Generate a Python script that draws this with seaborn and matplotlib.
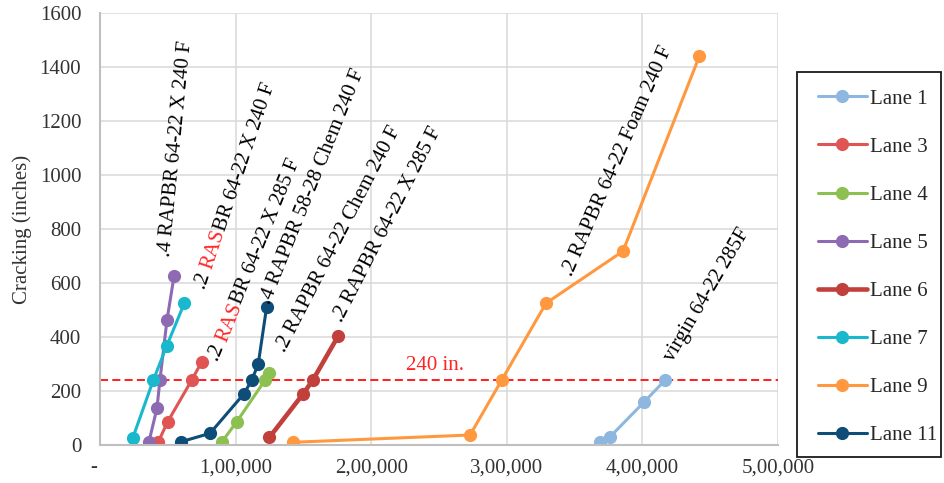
import numpy as np
import pandas as pd
import seaborn as sns
import matplotlib
matplotlib.use("Agg")
import matplotlib.pyplot as plt
import matplotlib.transforms as mtransforms
from matplotlib.lines import Line2D
from matplotlib.patches import Rectangle
from matplotlib.font_manager import FontProperties

# ---- data -------------------------------------------------------------
lanes = ["Lane 1", "Lane 3", "Lane 4", "Lane 5", "Lane 6", "Lane 7", "Lane 9", "Lane 11"]

lane1_passes = [368700, 376100, 401400, 416700]
lane1_crack = [10, 30, 160, 240]

lane3_passes = [43000, 49900, 67600, 75000]
lane3_crack = [12, 86, 240, 308]

lane4_passes = [89700, 100800, 121700, 124900]
lane4_crack = [10, 86, 240, 268]

lane5_passes = [36100, 42000, 44200, 49400, 54600]
lane5_crack = [12, 136, 240, 463, 625]

lane6_passes = [124900, 149900, 156900, 175700]
lane6_crack = [28, 190, 240, 404]

lane7_passes = [24100, 39300, 49200, 62200]
lane7_crack = [25, 240, 367, 525]

lane9_passes = [142100, 272900, 296200, 328900, 385700, 442000]
lane9_crack = [10, 37, 240, 525, 718, 1440]

lane11_passes = [59700, 81100, 106200, 111900, 116700, 122900]
lane11_crack = [12, 43, 190, 240, 300, 512]

limit_value = 240
limit_label = "240 in."

x_ticks = [0, 100000, 200000, 300000, 400000, 500000]
x_tick_labels = ["-  ", "1,00,000", "2,00,000", "3,00,000", "4,00,000", "5,00,000"]
y_ticks = [0, 200, 400, 600, 800, 1000, 1200, 1400, 1600]

mix_labels = [
    ".4 RAPBR 64-22 X 240 F",
    ".2 RASBR 64-22 X 240 F",
    ".2 RASBR 64-22 X 285 F",
    ".4 RAPBR 58-28 Chem 240 F",
    ".2 RAPBR 64-22 Chem 240 F",
    ".2 RAPBR 64-22 X 285 F",
    ".2 RAPBR 64-22 Foam 240 F",
    "virgin 64-22 285F",
]

# ---- styling ----------------------------------------------------------
colors = {
    "Lane 1": "#8DB7DE",
    "Lane 3": "#E05454",
    "Lane 4": "#8CC152",
    "Lane 5": "#8E6AB2",
    "Lane 6": "#C1403C",
    "Lane 7": "#19B8CC",
    "Lane 9": "#FF983E",
    "Lane 11": "#0D4D78",
}
widths = {ln: 2.2 for ln in lanes}
widths["Lane 6"] = 3.3

RED = "#FF2424"
SERIF = ["Liberation Serif", "DejaVu Serif"]
FS = 15

sns.set_theme(style="white")
plt.rcParams["font.family"] = SERIF

series = {
    "Lane 1": (lane1_passes, lane1_crack),
    "Lane 3": (lane3_passes, lane3_crack),
    "Lane 4": (lane4_passes, lane4_crack),
    "Lane 5": (lane5_passes, lane5_crack),
    "Lane 6": (lane6_passes, lane6_crack),
    "Lane 7": (lane7_passes, lane7_crack),
    "Lane 9": (lane9_passes, lane9_crack),
    "Lane 11": (lane11_passes, lane11_crack),
}
frames = []
for ln in lanes:
    px, cy = series[ln]
    frames.append(pd.DataFrame({"lane": ln, "passes": px, "cracking": cy}))
df = pd.concat(frames, ignore_index=True)

fig = plt.figure(figsize=(9.45, 4.83), dpi=100)
ax = fig.add_axes([100 / 945, 1 - 445 / 483, 678 / 945, 432 / 483])

ax.grid(True, color="#D9D9D9", lw=1.1)
ax.set_axisbelow(True)

sns.lineplot(
    data=df, x="passes", y="cracking", hue="lane", hue_order=lanes,
    size="lane", size_order=lanes, sizes=widths, palette=colors,
    marker="o", markersize=9.5, markeredgewidth=0,
    sort=False, estimator=None, legend=False, ax=ax,
)

ax.axhline(limit_value, color=RED, lw=1.45, dashes=(4, 2.1), zorder=1.5)
ax.text(247000, 296, limit_label, color=RED, fontsize=FS, ha="center", va="center")

ax.set_xlim(0, 500000)
ax.set_ylim(0, 1600)
ax.set_xticks(x_ticks)
ax.set_xticklabels(x_tick_labels)
ax.set_yticks(y_ticks)
ax.tick_params(axis="both", length=0, labelsize=FS, colors="#333333")
ax.tick_params(axis="y", pad=13.5)
ax.tick_params(axis="x", pad=9.5)
ax.set_xlabel("")
ax.set_ylabel("Cracking (inches)", fontsize=FS, color="#333333")
ax.yaxis.set_label_coords(-0.100, 0.5)

for side in ("top", "right"):
    ax.spines[side].set_visible(False)
for side in ("left", "bottom"):
    ax.spines[side].set_color("#BFBFBF")
    ax.spines[side].set_linewidth(1.5)


# ---- rotated mix labels (multi-coloured pieces along one baseline) ------
def rotated_label(x, y, pieces, angle):
    renderer = fig.canvas.get_renderer()
    prop = FontProperties(family=SERIF, size=FS)
    theta = np.deg2rad(angle)
    done = ""
    for text, color in pieces:
        if done:
            first = text[0]
            w_all = renderer.get_text_width_height_descent(done + first, prop, ismath=False)[0]
            w_first = renderer.get_text_width_height_descent(first, prop, ismath=False)[0]
            off = w_all - w_first
        else:
            off = 0.0
        trans = mtransforms.offset_copy(
            ax.transData, fig=fig, x=off * np.cos(theta), y=off * np.sin(theta), units="dots"
        )
        ax.text(x, y, text, transform=trans, rotation=angle, rotation_mode="anchor",
                ha="left", va="baseline", color=color, fontproperties=prop, zorder=5)
        done += text


def split_red(label, word="RAS"):
    if word in label:
        i = label.index(word)
        return [(label[:i], "black"), (word, RED), (label[i + len(word):], "black")]
    return [(label, "black")]


label_anchor = [
    (51600, 696, 84.5),
    (77400, 574, 71.4),
    (87200, 308, 67.8),
    (125400, 519, 68.1),
    (136400, 340, 62.7),
    (178200, 451, 62.8),
    (347800, 623, 66.4),
    (422600, 307, 59.5),
]
for lab, (lx, ly, ang) in zip(mix_labels, label_anchor):
    rotated_label(lx, ly, split_red(lab), ang)

# ---- legend -------------------------------------------------------------
handles = [
    Line2D([0], [0], color=colors[ln], lw=widths[ln], marker="o",
           markersize=9.5, markeredgewidth=0)
    for ln in lanes
]
fig.legend(
    handles, lanes, loc="upper left", bbox_to_anchor=(818 / 945, 1 - 89 / 483),
    frameon=False, borderpad=0, borderaxespad=0, handlelength=2.35,
    handletextpad=0.15, labelspacing=1.37, prop={"family": SERIF, "size": FS},
    labelcolor="#262626",
)
fig.patches.append(Rectangle(
    (797 / 945, 1 - 457 / 483), (941 - 797) / 945, (457 - 72) / 483,
    transform=fig.transFigure, fill=False, edgecolor="#1A1A1A", lw=1.3,
))

fig.savefig("out.png", dpi=100)
